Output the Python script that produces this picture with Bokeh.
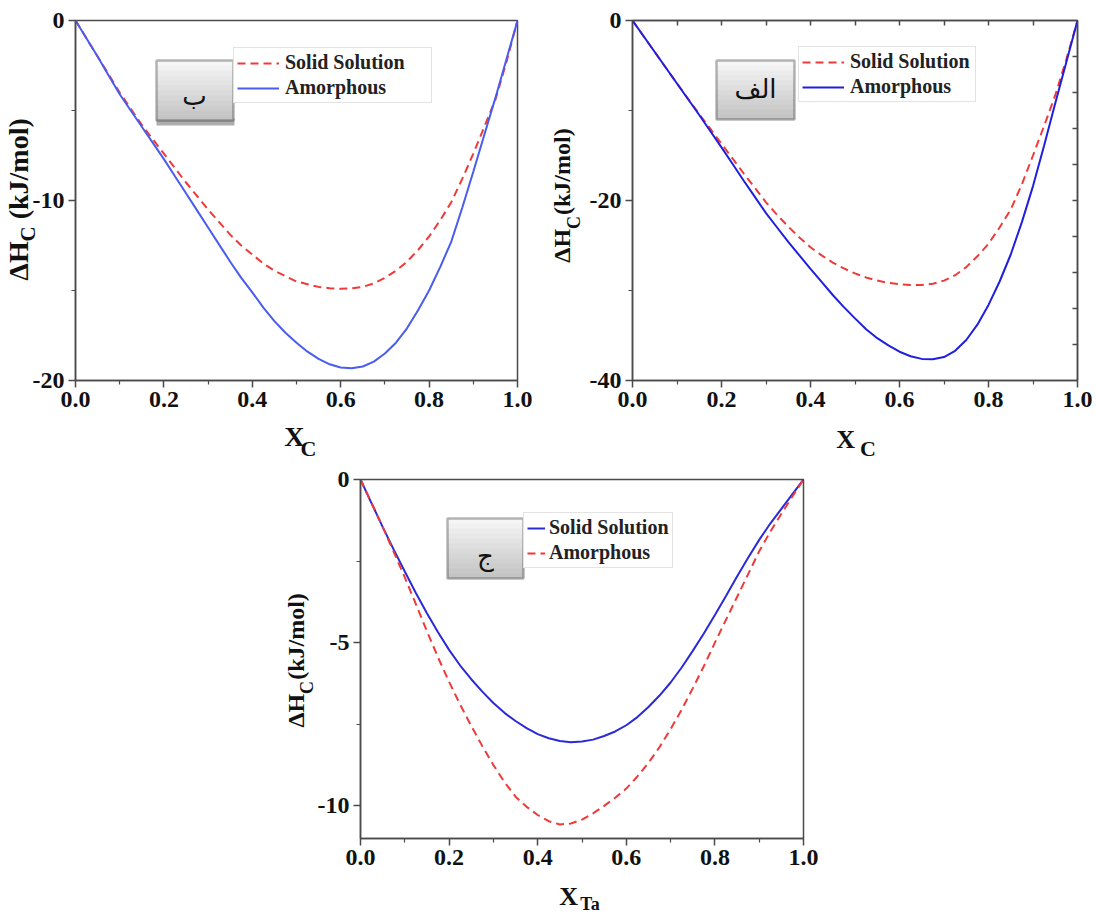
from bokeh.plotting import figure
from bokeh.models import (Range1d, FixedTicker, LinearAxis, Legend, LegendItem, Label,
                          BoxAnnotation, Spacer, PrintfTickFormatter)
from bokeh.layouts import row, column
from bokeh.embed import file_html
from bokeh.resources import INLINE

# ---------------- data ----------------
x_frac = [0.0, 0.025, 0.05, 0.075, 0.1, 0.125, 0.15, 0.175, 0.2, 0.225, 0.25,
          0.275, 0.3, 0.325, 0.35, 0.375, 0.4, 0.425, 0.45, 0.475, 0.5,
          0.525, 0.55, 0.575, 0.6, 0.625, 0.65, 0.675, 0.7, 0.725, 0.75,
          0.775, 0.8, 0.825, 0.85, 0.875, 0.9, 0.925, 0.95, 0.975, 1.0]

# panel "ب"  (top-left)
solid_b = [0, -1.0, -2.0, -3.0, -4.0, -4.9, -5.8, -6.6, -7.4, -8.2, -9.0,
           -9.75, -10.5, -11.2, -11.9, -12.5, -13.0, -13.5, -13.9, -14.2, -14.5,
           -14.65, -14.8, -14.87, -14.9, -14.88, -14.8, -14.6, -14.3, -13.9, -13.4,
           -12.75, -12.0, -11.1, -10.1, -8.8, -7.4, -5.9, -4.4, -2.3, 0]
amorph_b = [0, -1.0, -2.0, -3.05, -4.1, -5.0, -5.9, -6.8, -7.7, -8.65, -9.6,
            -10.55, -11.5, -12.45, -13.4, -14.3, -15.1, -15.95, -16.7, -17.35, -17.9,
            -18.4, -18.8, -19.1, -19.28, -19.32, -19.22, -18.95, -18.5, -17.9, -17.1,
            -16.1, -15.0, -13.7, -12.3, -10.4, -8.4, -6.35, -4.3, -2.15, 0]

# panel "الف"  (top-right)
solid_a = [0, -1.75, -3.5, -5.25, -7.0, -8.7, -10.4, -12.05, -13.7, -15.35, -17.0,
           -18.6, -20.2, -21.6, -22.9, -24.1, -25.2, -26.1, -26.9, -27.55, -28.1,
           -28.55, -28.9, -29.15, -29.3, -29.4, -29.4, -29.25, -28.9, -28.3, -27.4,
           -26.2, -24.8, -23.0, -21.0, -18.2, -15.0, -11.7, -8.3, -4.3, 0]
amorph_a = [0, -1.75, -3.5, -5.25, -7.0, -8.75, -10.5, -12.3, -14.1, -15.95, -17.8,
            -19.6, -21.4, -23.0, -24.6, -26.1, -27.6, -29.05, -30.5, -31.85, -33.1,
            -34.3, -35.3, -36.1, -36.8, -37.3, -37.6, -37.65, -37.4, -36.7, -35.5,
            -33.8, -31.6, -29.0, -26.0, -22.4, -18.4, -13.9, -9.2, -4.6, 0]

# panel "ج"  (bottom)
solid_c = [0, -0.73, -1.45, -2.15, -2.82, -3.48, -4.1, -4.68, -5.22, -5.7, -6.12,
           -6.5, -6.85, -7.15, -7.4, -7.62, -7.8, -7.93, -8.01, -8.05, -8.03,
           -7.97, -7.86, -7.72, -7.53, -7.28, -6.97, -6.62, -6.22, -5.76, -5.25,
           -4.72, -4.15, -3.57, -2.97, -2.4, -1.85, -1.35, -0.9, -0.45, 0]
amorph_c = [0, -0.72, -1.45, -2.22, -3.0, -3.82, -4.65, -5.45, -6.2, -6.9, -7.55,
            -8.17, -8.75, -9.27, -9.72, -10.03, -10.28, -10.47, -10.57, -10.54, -10.42,
            -10.23, -10.0, -9.75, -9.47, -9.1, -8.68, -8.2, -7.65, -7.05, -6.4,
            -5.72, -5.0, -4.3, -3.6, -2.9, -2.2, -1.6, -1.05, -0.52, 0]

x_major = [0.0, 0.2, 0.4, 0.6, 0.8, 1.0]
x_minor = [0.1, 0.3, 0.5, 0.7, 0.9]
x_all = [0.1, 0.2, 0.3, 0.4, 0.5, 0.6, 0.7, 0.8, 0.9]

yb_major, yb_minor, yb_range = [0, -10, -20], [-5, -15], (-20, 0)
ya_major, ya_minor, ya_range = [0, -20, -40], [-10, -30], (-40, 0)
ya_right = [-4, -8, -12, -16, -20, -24, -28, -32, -36]
yc_major, yc_minor, yc_range = [0, -5, -10], [-2.5, -7.5], (-11, 0)

legend_labels = ["Solid Solution", "Amorphous"]
panel_tags = ["ب", "الف", "ج"]
y_title_main = ["ΔH", "(kJ/mol)"]
y_title_sub = "C"
x_title_main = "X"
x_title_subs = ["C", "C", "Ta"]

RED = "#f03a3a"
SERIF = "Liberation Serif"
AX = "#4a4a4a"


def style_axis(ax):
    ax.axis_line_color = AX
    ax.axis_line_width = 1.5
    ax.major_tick_line_color = AX
    ax.minor_tick_line_color = AX
    ax.major_tick_line_width = 1.5
    ax.minor_tick_line_width = 1.2
    ax.major_tick_in = 0
    ax.major_tick_out = 7
    ax.minor_tick_in = 0
    ax.minor_tick_out = 4
    ax.major_label_text_font = SERIF
    ax.major_label_text_font_style = "bold"
    ax.major_label_text_font_size = "24px"
    ax.major_label_text_color = "#111111"
    ax.major_label_standoff = 4


def title_axis(p, side, ticks, texts, size, standoff):
    """An axis without line or ticks whose tick labels carry a piece of the axis title."""
    ax = LinearAxis(ticker=FixedTicker(ticks=ticks, minor_ticks=[]),
                    major_label_overrides=dict(zip(ticks, texts)))
    ax.axis_line_color = None
    ax.major_tick_line_color = None
    ax.minor_tick_line_color = None
    ax.major_tick_in = 0
    ax.major_tick_out = 0
    ax.minor_tick_in = 0
    ax.minor_tick_out = 0
    ax.major_label_text_font = SERIF
    ax.major_label_text_font_style = "bold"
    ax.major_label_text_font_size = size
    ax.major_label_text_color = "#111111"
    ax.major_label_standoff = standoff
    if side == "left":
        ax.major_label_orientation = "vertical"
    p.add_layout(ax, side)


def make_panel(bl, br, bt, bb, fw, fh, yrange, ymaj, ymin):
    p = figure(frame_width=fw, frame_height=fh, min_border_left=bl, min_border_right=br,
               min_border_top=bt, min_border_bottom=bb,
               x_range=Range1d(0, 1), y_range=Range1d(*yrange),
               output_backend="svg", toolbar_location=None)
    p.xgrid.visible = False
    p.ygrid.visible = False
    p.outline_line_color = AX
    p.outline_line_width = 1.5
    p.background_fill_color = "white"
    p.border_fill_color = "white"
    p.xaxis.ticker = FixedTicker(ticks=x_major, minor_ticks=x_minor)
    p.xaxis.formatter = PrintfTickFormatter(format="%.1f")
    p.yaxis.ticker = FixedTicker(ticks=ymaj, minor_ticks=ymin)
    p.yaxis.formatter = PrintfTickFormatter(format="%d")
    for ax in p.xaxis + p.yaxis:
        style_axis(ax)
    return p


def add_legend(p, r1, r2, loc, lw, gw=42, standoff=6):
    lg = Legend(items=[LegendItem(label=legend_labels[0], renderers=[r1]),
                       LegendItem(label=legend_labels[1], renderers=[r2])],
                location=loc)
    lg.label_text_font = SERIF
    lg.label_text_font_style = "bold"
    lg.label_text_font_size = "20px"
    lg.label_text_color = "#222222"
    lg.border_line_color = "#c8c8c8"
    lg.border_line_width = 1.5
    lg.background_fill_color = "white"
    lg.background_fill_alpha = 1.0
    lg.padding = 3
    lg.margin = 0
    lg.spacing = 2
    lg.glyph_width = gw
    lg.glyph_height = 22
    lg.label_height = 22
    lg.label_width = lw
    lg.label_standoff = standoff
    p.add_layout(lg)


def screen_box(**kw):
    return BoxAnnotation(left_units="screen", right_units="screen",
                         bottom_units="screen", top_units="screen", level="overlay", **kw)


def add_tag(p, left, right, bottom, top, text, tx, ty, shadow=False):
    if shadow:
        p.add_layout(screen_box(left=left, right=right + 1, bottom=bottom - 5, top=bottom + 2,
                                fill_color="#9a9a9a", fill_alpha=0.8, line_alpha=0))
    n = 12
    h = (top - bottom) / n
    for i in range(n):
        g = int(246 - (246 - 196) * i / (n - 1))
        c = "#%02x%02x%02x" % (g, g, g)
        p.add_layout(screen_box(left=left, right=right, top=top - i * h,
                                bottom=max(bottom, top - (i + 1) * h - 1.0),
                                fill_color=c, fill_alpha=1, line_alpha=0))
    p.add_layout(screen_box(left=left, right=right, bottom=bottom, top=top,
                            fill_alpha=0, line_color="#111111", line_width=2.5))
    p.add_layout(Label(x=tx, y=ty, x_units="screen", y_units="screen", text=text,
                       text_font="DejaVu Sans", text_font_size="26px", text_color="#111111",
                       text_align="center", text_baseline="middle", level="overlay"))


# ---------------- panel ب ----------------
p1 = make_panel(75, 23, 20, 86, 442, 360, yb_range, yb_major, yb_minor)
r1 = p1.line(x_frac, solid_b, color=RED, line_width=2, line_dash="8 5")
r2 = p1.line(x_frac, amorph_b, color="#4a5cf0", line_width=2)
add_legend(p1, r1, r2, (158, 277), 143)
add_tag(p1, 81, 158, 260, 320, panel_tags[0], 119, 285, shadow=True)
title_axis(p1, "left", [-11.86], [y_title_sub], "21px", -11)
title_axis(p1, "left", [-13.36, -8.24], y_title_main, "28px", -21)
title_axis(p1, "below", [0.495], [x_title_main], "28px", 11)
title_axis(p1, "below", [0.527], [x_title_subs[0]], "22px", -19)

# ---------------- panel الف ----------------
p2 = make_panel(92, 19, 20, 86, 445, 360, ya_range, ya_major, ya_minor)
r3 = p2.line(x_frac, solid_a, color=RED, line_width=2, line_dash="8 5")
r4 = p2.line(x_frac, amorph_a, color="#1f1fe0", line_width=2)
top_ax = LinearAxis(ticker=FixedTicker(ticks=x_all, minor_ticks=[]),
                    major_label_overrides={t: "" for t in x_all})
right_ax = LinearAxis(ticker=FixedTicker(ticks=ya_right, minor_ticks=[]),
                      major_label_overrides={t: "" for t in ya_right})
for ax in (top_ax, right_ax):
    style_axis(ax)
    ax.major_tick_in = 5
    ax.major_tick_out = 0
    ax.minor_tick_in = 0
    ax.minor_tick_out = 0
    ax.major_label_standoff = 0
p2.add_layout(top_ax, "above")
p2.add_layout(right_ax, "right")
add_legend(p2, r3, r4, (166, 278), 122)
add_tag(p2, 84, 162, 261, 320, panel_tags[1], 123, 292)
title_axis(p2, "left", [-22.45], [y_title_sub], "18px", 2)
title_axis(p2, "left", [-25.03, -16.8], y_title_main, "24px", -14)
title_axis(p2, "below", [0.479], [x_title_main], "26px", 15)
title_axis(p2, "below", [0.529], [x_title_subs[1]], "22px", -21)

# ---------------- panel ج ----------------
p3 = make_panel(80, 17, 13, 76, 443, 359, yc_range, yc_major, yc_minor)
r5 = p3.line(x_frac, solid_c, color="#2a2ad8", line_width=2)
r6 = p3.line(x_frac, amorph_c, color=RED, line_width=2, line_dash="8 5")
add_legend(p3, r5, r6, (163, 270), 118, gw=18, standoff=4)
add_tag(p3, 87, 163, 260, 320, panel_tags[2], 125, 283)
title_axis(p3, "left", [-6.37], [y_title_sub], "18px", -3)
title_axis(p3, "left", [-7.08, -4.81], y_title_main, "24px", -15)
title_axis(p3, "below", [0.470], [x_title_main], "26px", 14)
title_axis(p3, "below", [0.518], [x_title_subs[2]], "18px", -20)

layout = column(row(p1, p2), row(Spacer(width=280, height=448), p3))

open("out.html", "w").write(file_html(layout, INLINE))
